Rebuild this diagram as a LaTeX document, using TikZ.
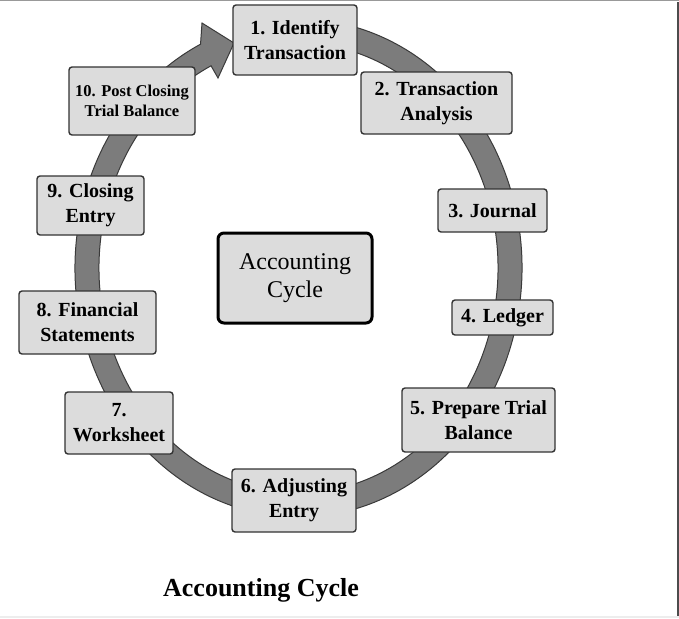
\documentclass[tikz,border=0pt]{standalone}
\usepackage{fontspec}
\setmainfont{Liberation Serif}
\usetikzlibrary{calc}
\definecolor{boxfill}{HTML}{DCDCDC}
\definecolor{ringfill}{HTML}{7C7C7C}
\definecolor{ringline}{HTML}{3A3A3A}

\begin{document}
\begin{tikzpicture}[x=1pt,y=1pt,
    stage/.style={draw=black!80,fill=boxfill,rounded corners=3pt,line width=1.4pt,
      align=center,inner sep=0pt,font=\bfseries\fontsize{20}{25}\selectfont},
    hub/.style={draw=black,fill=boxfill,rounded corners=6pt,line width=3pt,
      align=center,inner sep=0pt,font=\fontsize{24}{28}\selectfont}]
  \useasboundingbox (0,0) rectangle (679,-618);

  % frame
  \fill[black!40] (0,0) rectangle (679,-1.5);
  \fill[black!7] (0,-615.5) rectangle (679,-618);
  \fill[black!70] (677,-2) rectangle (679,-615.5);

  % ring with arrow into 1
  \coordinate (o) at (298.5,-268);
  \filldraw[fill=ringfill,draw=ringline,line width=1pt]
    ($(o)+(80:223.5 and 249)$) arc[start angle=80,end angle=-244,x radius=223.5,y radius=249]
    -- (202,-23) -- (234,-43) -- (218,-78)
    -- ($(o)+(-244:199.5 and 225)$) arc[start angle=-244,end angle=80,x radius=199.5,y radius=225]
    -- cycle;

  \node[stage,minimum width=124,minimum height=70] (1) at (295,-40) {1. Identify\\Transaction};
  \node[stage,minimum width=151,minimum height=62] (2) at (436.5,-103) {2. Transaction\\Analysis};
  \node[stage,minimum width=109,minimum height=43] (3) at (492.5,-210.5) {3. Journal};
  \node[stage,minimum width=101,minimum height=35] (4) at (502.5,-317.5) {4. Ledger};
  \node[stage,minimum width=153,minimum height=64] (5) at (478.5,-420) {5. Prepare Trial\\Balance};
  \node[stage,minimum width=124,minimum height=63] (6) at (294,-500.5) {6. Adjusting\\Entry};
  \node[stage,minimum width=108,minimum height=62] (7) at (119,-423) {7.\\Worksheet};
  \node[stage,minimum width=137,minimum height=63] (8) at (87.5,-322.5) {8. Financial\\Statements};
  \node[stage,minimum width=107,minimum height=59] (9) at (90.5,-205.5) {9. Closing\\Entry};
  \node[stage,minimum width=126,minimum height=68,
    font=\bfseries\fontsize{16.5}{20}\selectfont] (10) at (132,-101) {10. Post Closing\\Trial Balance};

  \node[hub,minimum width=154,minimum height=90] (c) at (295,-278) {Accounting\\Cycle};

  \node[font=\bfseries\fontsize{26}{30}\selectfont] (t) at (261,-590) {Accounting Cycle};
\end{tikzpicture}
\end{document}
